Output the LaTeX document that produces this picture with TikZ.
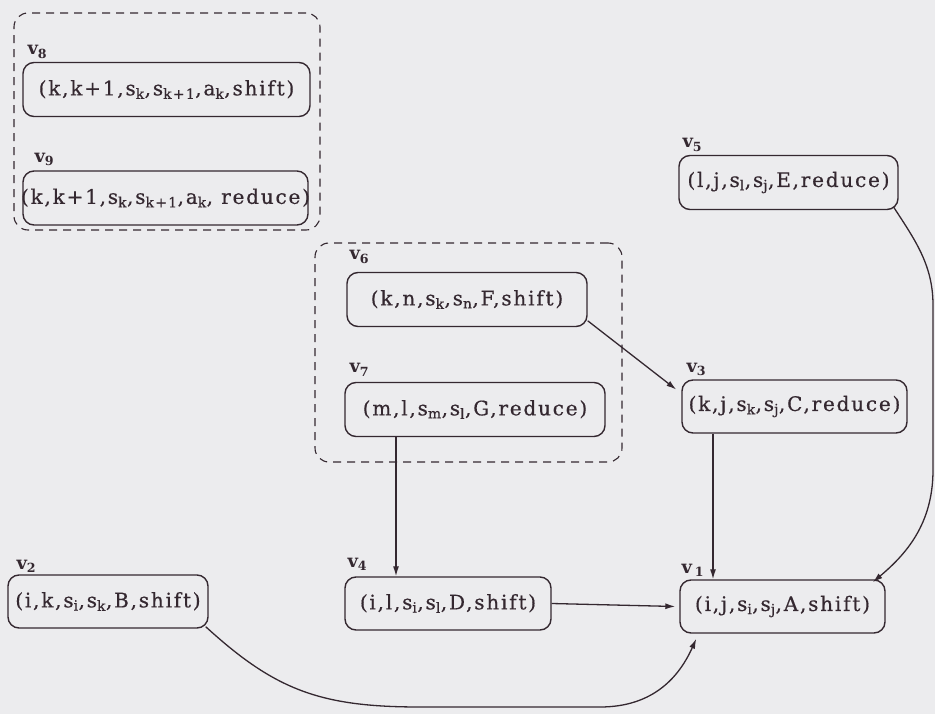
\documentclass[tikz,border=0pt]{standalone}
\usepackage{fontspec}
\usetikzlibrary{arrows.meta}
\newfontfamily\statefont{DejaVu Serif}[LetterSpace=9,FakeBold=0.5]
\newfontfamily\namefont{DejaVu Serif}
\definecolor{ink}{RGB}{52,40,48}
\definecolor{paper}{RGB}{236,236,238}
\newcommand{\sub}[1]{\textsubscript{#1}}
\tikzset{
  state/.style={draw=ink, line width=1.4pt, rounded corners=11pt, minimum height=54pt,
    inner xsep=0pt, text=ink, font=\statefont\fontsize{20}{23}\selectfont},
  group/.style={draw=ink, line width=1.1pt, dash pattern=on 8pt off 6pt, rounded corners=14pt},
  vlabel/.style={anchor=base west, inner sep=0pt, text=ink, font=\namefont\fontsize{18}{21}\selectfont\bfseries},
  edge/.style={draw=ink, line width=1.3pt, -{Latex[length=10pt,width=6pt]}}
}
\begin{document}
\begin{tikzpicture}[x=1pt,y=-1pt]
  % page background
  \fill[paper] (0,0) rectangle (935,714);
  \useasboundingbox (0,0) rectangle (935,714);

  % grouped states
  \node[group, minimum width=306pt, minimum height=217pt] (g89) at (167,121.5) {};
  \node[group, minimum width=307pt, minimum height=219pt] (g67) at (468.5,352.5) {};

  % states
  \node[state, minimum width=287pt] (v8) at (166.5,89.5) {(k,k+1,s\sub{k},s\sub{k+1},a\sub{k},shift)};
  \node[state, minimum width=285pt] (v9) at (165.5,198) {\makebox[270pt]{(k,k+1,s\sub{k},s\sub{k+1},a\sub{k}, reduce)}};
  \node[state, minimum width=240pt] (v6) at (467,299.5) {(k,n,s\sub{k},s\sub{n},F,shift)};
  \node[state, minimum width=260pt] (v7) at (475,409.5) {(m,l,s\sub{m},s\sub{l},G,reduce)};
  \node[state, minimum width=219pt] (v5) at (788.5,182.5) {(l,j,s\sub{l},s\sub{j},E,reduce)};
  \node[state, minimum width=225pt, minimum height=53pt] (v3) at (794.5,406.5) {(k,j,s\sub{k},s\sub{j},C,reduce)};
  \node[state, minimum width=205pt, minimum height=53pt] (v1) at (782.5,606.5) {(i,j,s\sub{i},s\sub{j},A,shift)};
  \node[state, minimum width=200pt, minimum height=53pt] (v2) at (108,601.5) {(i,k,s\sub{i},s\sub{k},B,shift)};
  \node[state, minimum width=206pt, minimum height=53pt] (v4) at (448,603.5) {(i,l,s\sub{i},s\sub{l},D,shift)};

  % state names
  \node[vlabel] (l8) at ([shift={(5,-7)}]v8.north west) {v\sub{8}};
  \node[vlabel] (l9) at ([shift={(12,-8)}]v9.north west) {v\sub{9}};
  \node[vlabel] (l6) at ([shift={(3,-12)}]v6.north west) {v\sub{6}};
  \node[vlabel] (l7) at ([shift={(5,-9)}]v7.north west) {v\sub{7}};
  \node[vlabel] (l5) at ([shift={(4,-7)}]v5.north west) {v\sub{5}};
  \node[vlabel] (l3) at ([shift={(5,-7)}]v3.north west) {v\sub{3}};
  \node[vlabel] (l1) at ([shift={(2,-6)}]v1.north west) {v\,\sub{1}};
  \node[vlabel] (l2) at ([shift={(9,-5)}]v2.north west) {v\sub{2}};
  \node[vlabel] (l4) at ([shift={(3,-9)}]v4.north west) {v\sub{4}};

  % vertical guide positions
  \coordinate (x74) at (396,0);
  \coordinate (x31) at (713,0);

  % transitions
  \draw[edge] (v6.-10) -- ([shift={(-5,-1)}]v3.172);
  \draw[edge] (v7.south -| x74) -- (v4.north -| x74);
  \draw[edge] (v3.south -| x31) -- (v1.north -| x31);
  \draw[edge] (v4.east) -- ([xshift=-4pt]v1.west);
  \draw[edge] ([shift={(-5,-3)}]v5.south east)
      .. controls (915,240) and (933,265) .. (933,305)
      -- (933,470)
      .. controls (933,525) and (905,555) .. ([shift={(-13,3)}]v1.north east);
  \draw[edge] ([shift={(-3,-2)}]v2.south east)
      .. controls (275,690) and (320,707) .. (420,707)
      -- (600,707)
      .. controls (655,707) and (680,675) .. ([shift={(17,5)}]v1.south west);
\end{tikzpicture}
\end{document}
